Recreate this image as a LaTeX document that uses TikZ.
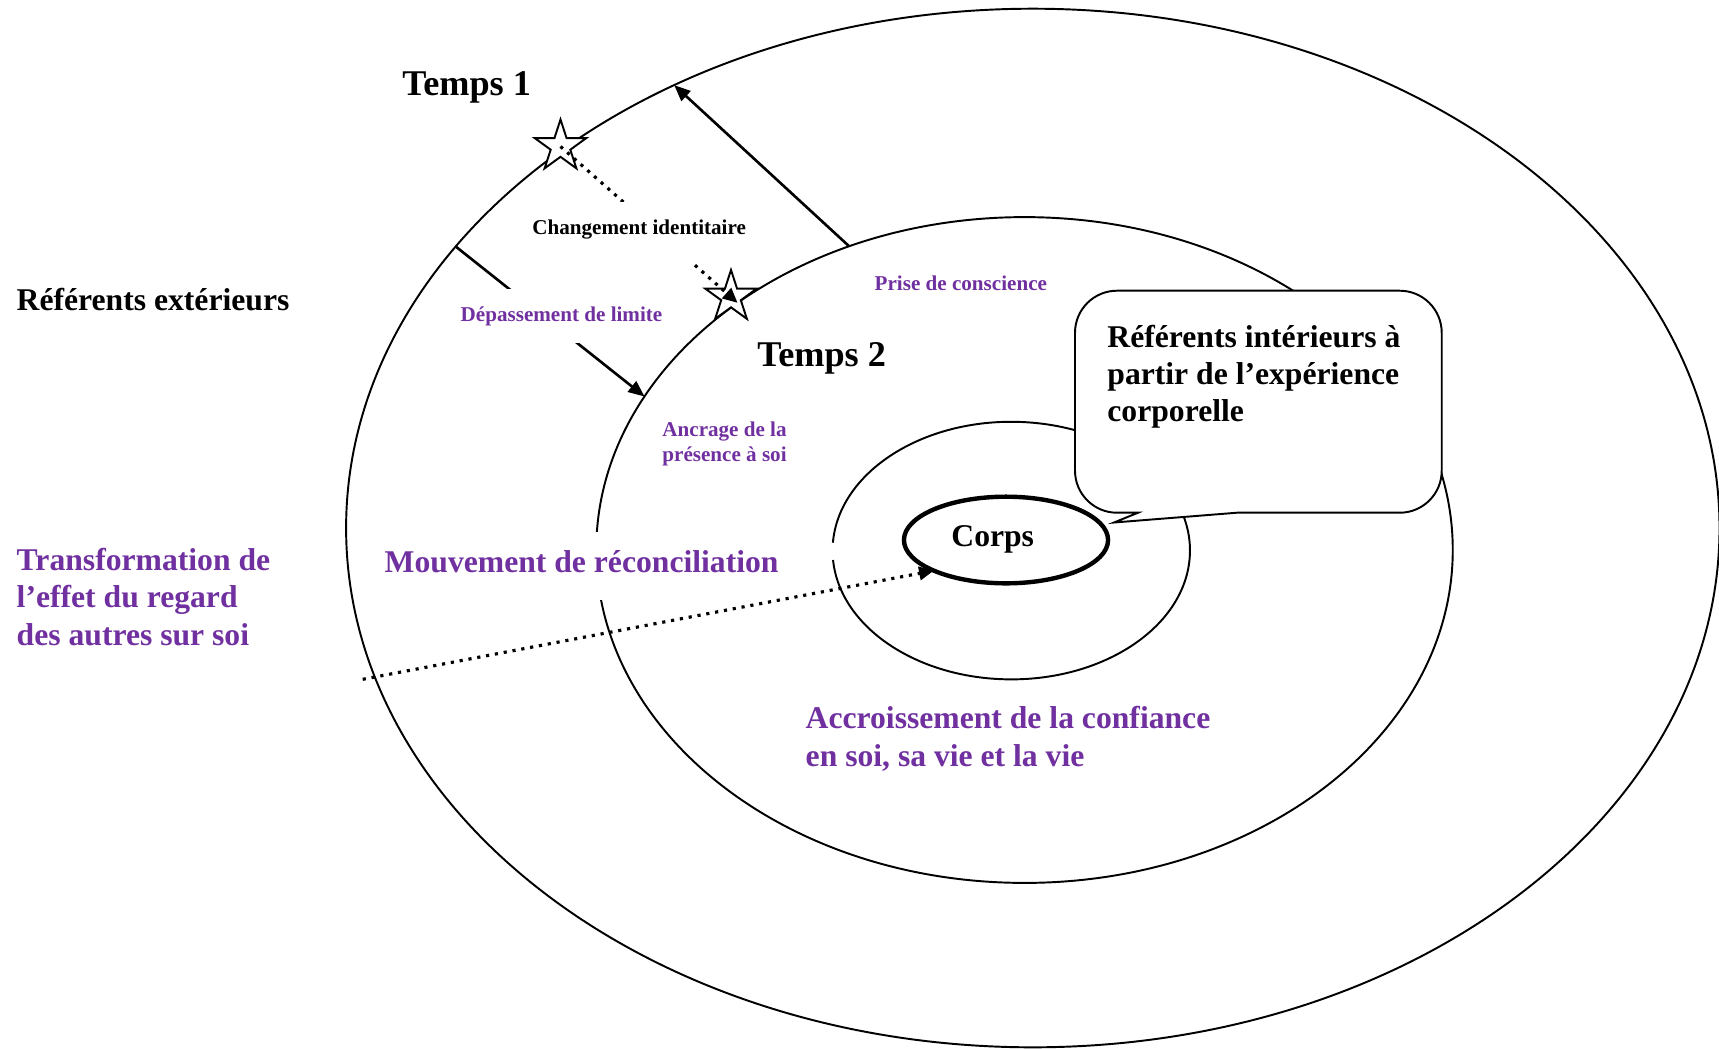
\documentclass[tikz,border=0pt]{standalone}
\usepackage{fontspec}
\setmainfont{Liberation Serif}
\usetikzlibrary{shapes.geometric,arrows.meta}
\definecolor{labelpurple}{HTML}{7030A0}

\begin{document}
\begin{tikzpicture}[x=0.01cm,y=-0.01cm,
  ring/.style={draw, ellipse, inner sep=0pt, outer sep=0pt, line width=0.55pt},
  txt/.style={inner sep=0pt, anchor=base west, align=left,
              font=\bfseries\fontsize{9pt}{10.6pt}\selectfont},
  title/.style={txt, font=\bfseries\fontsize{10.3pt}{12pt}\selectfont},
  note/.style={txt, font=\bfseries\fontsize{6pt}{7.1pt}\selectfont},
  gapbox/.style={fill=white, inner xsep=1pt, inner ysep=0pt},
  starmark/.style={star, star points=5, star point ratio=2.618,
                   minimum size=0.54cm, inner sep=0pt, outer sep=0pt,
                   draw, fill=white, line width=0.55pt},
  solidarrow/.style={line width=0.75pt, -{Triangle[length=4.6pt,width=3.8pt]}},
  dotarrow/.style={line width=0.9pt, dash pattern=on 0.9pt off 1.65pt,
                   -{Triangle[length=4.2pt,width=3.8pt]}},
]
\useasboundingbox (0,0) rectangle (1719,1048);

% nested rings
\node[ring, minimum width=13.726cm, minimum height=10.38cm] (outer) at (1032.8,528) {};
\node[ring, minimum width=8.56cm, minimum height=6.654cm] (middle) at (1024.5,550) {};
\draw[line width=0.55pt] (832.9,542.7)
  arc[start angle=183.5, end angle=535.8, x radius=178.7, y radius=128.8];
\node[ring, line width=1.25pt, minimum width=2.04cm, minimum height=0.866cm] (corps) at (1006,540) {};

% speech bubble pointing at the body
\coordinate (tip) at (1114,522.5);
\draw[line width=0.55pt, fill=white]
  (1138,512.7) -- (tip) -- (1237,512.7) -- (1399.7,512.7)
  .. controls (1422.9,512.7) and (1441.7,493.9) .. (1441.7,470.7)
  -- (1441.7,332.7)
  .. controls (1441.7,309.5) and (1422.9,290.7) .. (1399.7,290.7)
  -- (1117,290.7)
  .. controls (1093.8,290.7) and (1075,309.5) .. (1075,332.7)
  -- (1075,470.7)
  .. controls (1075,493.9) and (1093.8,512.7) .. (1117,512.7)
  -- cycle;
\node[txt] (inner) at (1106.7,421.7)
  {Référents intérieurs à\\partir de l’expérience\\corporelle};

% solid arrows between the rings
\draw[solidarrow] (middle.120.7) -- (outer.129.6);
\draw[solidarrow] (outer.154.5) -- (middle.158.3);

% stars and the dotted link between them
\node[starmark] (s1) at (560.5,146.5) {};
\node[starmark] (s2) at (731,297) {};
\draw[dotarrow, shorten >=-2.5pt] (s1.center) -- (s2.center);

% labels sitting on the connectors
\node[note, gapbox, text height=0.32cm, text depth=0.287cm] (chg) at (528.2,234)
  {Changement identitaire};
\node[note, gapbox, text=labelpurple, text height=0.317cm, text depth=0.221cm] (dep) at (456.5,321)
  {Dépassement de limite};
\node[txt, gapbox, text=labelpurple, text height=0.407cm, text depth=0.273cm] (mvt) at (380.5,572.7)
  {Mouvement de réconciliation};

% dotted path from the outside to the body
\coordinate (gaze) at (362.7,679.3);
\draw[dotarrow] (gaze) -- (corps.203);

% remaining labels
\node[title] (t1) at (401.7,95) {Temps 1};
\node[title] (t2) at (756.7,366) {Temps 2};
\node[note, text=labelpurple] (prise) at (874,290) {Prise de conscience};
\node[note, text=labelpurple] (ancr) at (661.7,461.7) {Ancrage de la\\présence à soi};
\node[txt] (ext) at (16,310.7) {Référents extérieurs};
\node[txt, text=labelpurple] (regard) at (16,645)
  {Transformation de\\l’effet du regard\\des autres sur soi};
\node[txt, text=labelpurple] (conf) at (805,766)
  {Accroissement de la confiance\\en soi, sa vie et la vie};
\node[txt] (corpslbl) at (950.7,546.7) {Corps};
\end{tikzpicture}
\end{document}
